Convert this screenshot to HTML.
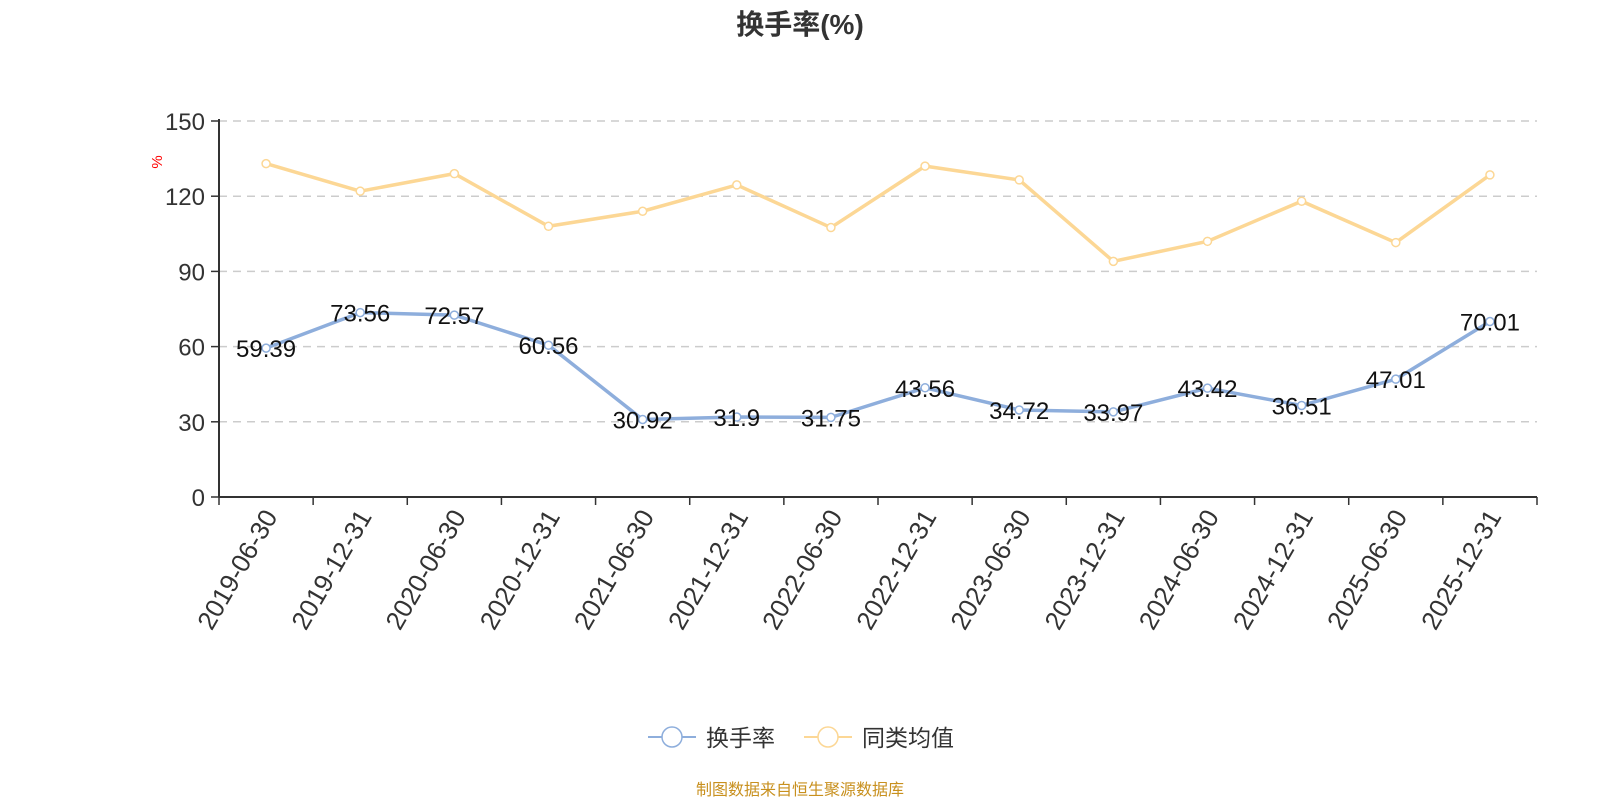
<!DOCTYPE html>
<html><head><meta charset="utf-8"><style>
body{margin:0;background:#fff;width:1600px;height:800px;overflow:hidden;font-family:"Liberation Sans","Noto Sans CJK SC",sans-serif}
</style></head><body>
<svg id="c" width="1600" height="800" style="font-family:'Liberation Sans','Noto Sans CJK SC',sans-serif">
<text x="800" y="34" text-anchor="middle" font-size="28" font-weight="bold" fill="#333">换手率(%)</text>
<text x="162" y="162" font-size="15" fill="red" transform="rotate(-90 162 162)" text-anchor="middle">%</text>
<g id="grid"></g><g id="lines"></g><g id="labels"></g>
<g>
<line x1="648" y1="737" x2="696" y2="737" stroke="#8eaedc" stroke-width="2"/><circle cx="672" cy="737" r="10" fill="#fff" stroke="#8eaedc" stroke-width="1.5"/>
<text x="706" y="746" font-size="23" fill="#333">换手率</text>
<line x1="804" y1="737" x2="852" y2="737" stroke="#fcd795" stroke-width="2"/><circle cx="828" cy="737" r="10" fill="#fff" stroke="#fcd795" stroke-width="1.5"/>
<text x="862" y="746" font-size="23" fill="#333">同类均值</text>
</g>
<text x="800" y="795" text-anchor="middle" font-size="16" fill="#c8901e">制图数据来自恒生聚源数据库</text>
</svg>
<script>
const categories=["2019-06-30","2019-12-31","2020-06-30","2020-12-31","2021-06-30","2021-12-31","2022-06-30","2022-12-31","2023-06-30","2023-12-31","2024-06-30","2024-12-31","2025-06-30","2025-12-31"];
const turnover=[59.39,73.56,72.57,60.56,30.92,31.9,31.75,43.56,34.72,33.97,43.42,36.51,47.01,70.01];
const peerAvg=[133,122,129,108,114,124.5,107.5,132,126.5,94,102,118,101.5,128.5];
const yTicks=[0,30,60,90,120,150];
const NS="http://www.w3.org/2000/svg";
const L=219,R=1537,T=121,B=497;
const bw=(R-L)/categories.length;
const xs=i=>L+bw*(i+0.5), ys=v=>B-(v/150)*(B-T);
function mk(t,a,p){const e=document.createElementNS(NS,t);for(const k in a)e.setAttribute(k,a[k]);p.appendChild(e);return e;}
const g=document.getElementById('grid'),ln=document.getElementById('lines'),lb=document.getElementById('labels');
yTicks.forEach(v=>{const y=ys(v);
if(v>0){const d=mk('line',{x1:L,x2:R,y1:y,y2:y,stroke:'#ccc','stroke-dasharray':'8,6','stroke-width':1.5},g);

}
mk('line',{x1:L-8,x2:L,y1:y,y2:y,stroke:'#333','stroke-width':1.5},g);
const t=mk('text',{x:L-14,y:y+9,'text-anchor':'end','font-size':24,fill:'#333'},g);t.textContent=v;

});
mk('line',{x1:L,x2:L,y1:T-2,y2:B,stroke:'#333','stroke-width':2},g);
mk('line',{x1:L,x2:R,y1:B,y2:B,stroke:'#333','stroke-width':2},g);
for(let i=0;i<=categories.length;i++){const x=L+bw*i;mk('line',{x1:x,x2:x,y1:B,y2:B+8,stroke:'#333','stroke-width':1.5},g);}
categories.forEach((c,i)=>{const x=xs(i)-4,y=B+10;
const t=mk('text',{x:x,y:y,'text-anchor':'end','font-size':26,fill:'#333',transform:`rotate(-60 ${x} ${y})`,dy:'0.72em'},g);t.textContent=c;

});
function series(vals,col,name,lab){
const p=mk('polyline',{points:vals.map((v,i)=>xs(i)+','+ys(v)).join(' '),fill:'none',stroke:col,'stroke-width':3.5},ln);


vals.forEach((v,i)=>{const c=mk('circle',{cx:xs(i),cy:ys(v),r:4,fill:'#fff',stroke:col,'stroke-width':1.5},ln);


if(lab){const t=mk('text',{x:xs(i),y:ys(v)+9,'text-anchor':'middle','font-size':24,fill:'#111'},lb);t.textContent=v;

}});}
series(peerAvg,'#fcd795','peer-average',false);
series(turnover,'#8eaedc','turnover',true);
</script>
</body></html>
